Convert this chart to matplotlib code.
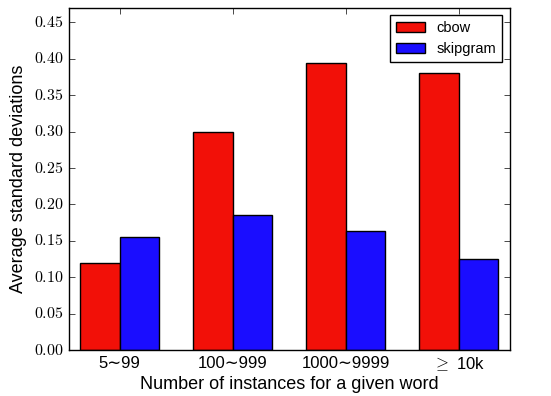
import numpy as np
import matplotlib
matplotlib.use("Agg")
import matplotlib.pyplot as plt

plt.style.use("classic")
plt.rcParams["mathtext.fontset"] = "cm"
plt.rcParams["font.family"] = ["Liberation Sans", "DejaVu Sans"]

groups = ["5\u223c99", "100\u223c999", "1000\u223c9999", r"$\geq$ 10k"]
cbow = [0.120, 0.300, 0.395, 0.380]
skipgram = [0.155, 0.186, 0.163, 0.125]

ind = np.arange(len(groups))
width = 0.35

fig = plt.figure(figsize=(5.51, 3.96), dpi=100)
fig.patch.set_facecolor("white")
ax = fig.add_axes([0.125, 0.116, 0.8, 0.864])

ax.bar(ind, cbow, width, align="edge", color="#f21008", edgecolor="black", label="cbow")
ax.bar(ind + width, skipgram, width, align="edge", color="#1a0dff", edgecolor="black", label="skipgram")

ax.set_xlim(-0.1, 3.8)
ax.set_ylim(0, 0.47)
ax.set_xticks(ind + width)
ax.set_xticklabels(groups, fontsize=12)
yt = np.arange(0, 0.46, 0.05)
ax.set_yticks(yt)
ax.set_yticklabels([r"$\mathrm{%.2f}$" % v for v in yt], fontsize=11.5)
ax.set_xlabel("Number of instances for a given word", fontsize=13, labelpad=2)
ax.set_ylabel("Average standard deviations", fontsize=13, labelpad=5)

leg = ax.legend(loc="upper right", fontsize=10.5, handlelength=2.0)
leg.get_frame().set_linewidth(1.0)

fig.savefig("out.png", dpi=100, facecolor="white")
